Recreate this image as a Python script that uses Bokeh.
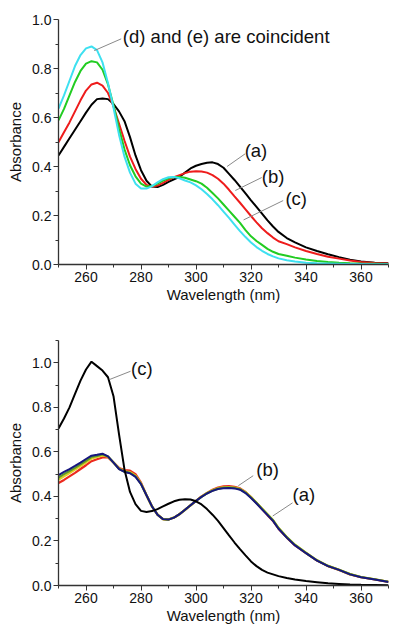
from bokeh.plotting import figure
from bokeh.layouts import column
from bokeh.models import Range1d, FixedTicker, PrintfTickFormatter
from bokeh.core.properties import value
from bokeh.embed import file_html
from bokeh.resources import INLINE

# ---------------- data: top panel ----------------
wl_top = [250, 252, 254, 256, 258, 260, 262, 264, 266, 268, 270, 272, 274, 276, 278,
          280, 282, 284, 286, 288, 290, 292, 294, 296, 298, 300, 302, 304, 306, 308,
          310, 312, 314, 316, 318, 320, 322, 324, 326, 328, 330, 333, 336, 340, 344,
          348, 352, 356, 360, 365, 370]

top_a_black = [0.445, 0.48, 0.515, 0.55, 0.585, 0.62, 0.652, 0.675, 0.678, 0.675, 0.655,
               0.625, 0.585, 0.52, 0.445, 0.385, 0.342, 0.318, 0.316, 0.325, 0.337, 0.348,
               0.358, 0.375, 0.392, 0.403, 0.41, 0.415, 0.417, 0.41, 0.395, 0.37, 0.345,
               0.318, 0.29, 0.262, 0.235, 0.208, 0.18, 0.155, 0.133, 0.108, 0.09, 0.07,
               0.055, 0.042, 0.03, 0.019, 0.012, 0.007, 0.005]

top_b_red = [0.499, 0.54, 0.58, 0.625, 0.67, 0.71, 0.735, 0.742, 0.73, 0.70, 0.645, 0.575,
             0.505, 0.44, 0.39, 0.35, 0.325, 0.318, 0.322, 0.333, 0.345, 0.356, 0.365,
             0.373, 0.379, 0.381, 0.38, 0.375, 0.365, 0.35, 0.33, 0.305, 0.278, 0.252,
             0.225, 0.198, 0.172, 0.148, 0.128, 0.11, 0.095, 0.083, 0.07, 0.055, 0.043,
             0.032, 0.024, 0.016, 0.01, 0.006, 0.004]

top_c_green = [0.588, 0.635, 0.69, 0.745, 0.79, 0.82, 0.83, 0.825, 0.795, 0.735, 0.65,
               0.555, 0.47, 0.405, 0.36, 0.33, 0.318, 0.32, 0.33, 0.342, 0.352, 0.357,
               0.357, 0.354, 0.347, 0.34, 0.33, 0.313, 0.292, 0.27, 0.245, 0.22, 0.195,
               0.17, 0.14, 0.115, 0.096, 0.08, 0.064, 0.052, 0.043, 0.036, 0.028, 0.02,
               0.014, 0.01, 0.007, 0.005, 0.004, 0.003, 0.002]

top_de_cyan = [0.636, 0.69, 0.75, 0.81, 0.855, 0.882, 0.89, 0.875, 0.825, 0.74, 0.64,
               0.53, 0.44, 0.375, 0.33, 0.31, 0.31, 0.32, 0.335, 0.348, 0.356, 0.357,
               0.352, 0.343, 0.335, 0.323, 0.307, 0.288, 0.266, 0.242, 0.216, 0.19, 0.163,
               0.136, 0.112, 0.09, 0.071, 0.056, 0.043, 0.033, 0.025, 0.017, 0.012, 0.007,
               0.005, 0.004, 0.003, 0.002, 0.002, 0.001, 0.001]

# ---------------- data: bottom panel ----------------
wl_bot = wl_top

bot_c_black = [0.705, 0.75, 0.80, 0.86, 0.92, 0.97, 1.005, 0.985, 0.965, 0.935, 0.85,
               0.68, 0.52, 0.42, 0.365, 0.335, 0.33, 0.334, 0.343, 0.355, 0.367, 0.378,
               0.385, 0.387, 0.386, 0.378, 0.364, 0.343, 0.318, 0.29, 0.258, 0.225, 0.193,
               0.163, 0.135, 0.108, 0.087, 0.07, 0.058, 0.05, 0.042, 0.034, 0.027, 0.02,
               0.015, 0.01, 0.007, 0.004, 0.003, 0.002, 0.001]

bot_red = [0.46, 0.474, 0.49, 0.506, 0.523, 0.54, 0.558, 0.567, 0.575, 0.575, 0.552,
           0.528, 0.518, 0.516, 0.50, 0.462, 0.405, 0.355, 0.318, 0.298, 0.296, 0.305,
           0.32, 0.34, 0.36, 0.38, 0.40, 0.416, 0.43, 0.44, 0.445, 0.446, 0.443, 0.436,
           0.42, 0.397, 0.37, 0.343, 0.316, 0.29, 0.255, 0.215, 0.18, 0.145, 0.112,
           0.087, 0.07, 0.05, 0.037, 0.027, 0.016]

bot_gold = [0.475, 0.49, 0.505, 0.52, 0.536, 0.553, 0.57, 0.577, 0.584, 0.578, 0.552,
            0.525, 0.513, 0.509, 0.493, 0.458, 0.405, 0.355, 0.318, 0.298, 0.296, 0.305,
            0.32, 0.34, 0.36, 0.38, 0.399, 0.415, 0.428, 0.437, 0.441, 0.442, 0.44, 0.434,
            0.419, 0.397, 0.372, 0.346, 0.32, 0.294, 0.259, 0.218, 0.183, 0.147, 0.113,
            0.088, 0.071, 0.051, 0.038, 0.028, 0.017]

bot_olive = [0.485, 0.50, 0.514, 0.528, 0.544, 0.56, 0.577, 0.582, 0.588, 0.579, 0.552,
             0.524, 0.511, 0.506, 0.49, 0.456, 0.405, 0.355, 0.318, 0.298, 0.296, 0.305,
             0.32, 0.34, 0.36, 0.38, 0.398, 0.414, 0.426, 0.435, 0.439, 0.44, 0.438, 0.432,
             0.417, 0.395, 0.371, 0.345, 0.319, 0.293, 0.258, 0.217, 0.182, 0.146, 0.113,
             0.088, 0.071, 0.051, 0.038, 0.028, 0.017]

bot_navy = [0.496, 0.51, 0.523, 0.537, 0.552, 0.568, 0.583, 0.587, 0.592, 0.58, 0.552,
            0.523, 0.51, 0.504, 0.488, 0.455, 0.405, 0.355, 0.318, 0.298, 0.296, 0.305,
            0.32, 0.34, 0.36, 0.38, 0.398, 0.413, 0.425, 0.433, 0.437, 0.438, 0.436, 0.43,
            0.415, 0.393, 0.368, 0.342, 0.316, 0.29, 0.255, 0.215, 0.18, 0.145, 0.112,
            0.087, 0.07, 0.05, 0.037, 0.027, 0.016]

x_major = [260, 280, 300, 320, 340, 360]
x_minor = [250, 270, 290, 310, 330, 350, 370]
y_major = [0.0, 0.2, 0.4, 0.6, 0.8, 1.0]
y_minor_top = [0.1, 0.3, 0.5, 0.7, 0.9]
y_minor_bot = [0.1, 0.3, 0.5, 0.7, 0.9, 1.1]

FONT = "Liberation Sans"


def style(p, y_minor):
    p.xaxis.ticker = FixedTicker(ticks=x_major, minor_ticks=x_minor)
    p.yaxis.ticker = FixedTicker(ticks=y_major, minor_ticks=y_minor)
    p.xaxis.formatter = PrintfTickFormatter(format="%d")
    p.yaxis.formatter = PrintfTickFormatter(format="%.1f")
    for ax in (p.xaxis[0], p.yaxis[0]):
        ax.major_label_text_font = FONT
        ax.major_label_text_font_size = "14px"
        ax.major_label_text_color = "#111111"
        ax.axis_label_text_font = FONT
        ax.axis_label_text_font_size = "15px"
        ax.axis_label_text_font_style = "normal"
        ax.axis_label_text_color = "#111111"
        ax.axis_line_color = "#333333"
        ax.axis_line_width = 1.3
        ax.major_tick_line_color = "#333333"
        ax.minor_tick_line_color = "#333333"
        ax.major_tick_in = 0
        ax.major_tick_out = 5
        ax.minor_tick_in = 0
        ax.minor_tick_out = 3
        ax.major_label_standoff = 2
    p.xaxis.axis_label = "Wavelength (nm)"
    p.yaxis.axis_label = "Absorbance"
    p.xaxis.axis_label_standoff = 1
    p.yaxis.axis_label_standoff = 5
    p.xgrid.visible = False
    p.ygrid.visible = False
    p.outline_line_color = None
    p.background_fill_color = "white"
    p.border_fill_color = "white"


def note(p, x, y, txt):
    p.text(x=[x], y=[y], text=[txt], text_font=value(FONT), text_font_size="18.5px",
           text_color="#111111", text_baseline="middle", text_align="left")


def leader(p, xs, ys):
    p.line(x=xs, y=ys, line_color="#8a8a8a", line_width=1)


# ---------------- top figure ----------------
p1 = figure(width=392, height=310, output_backend="svg", toolbar_location=None,
            x_range=Range1d(250, 370), y_range=Range1d(0, 1.0),
            min_border_left=55, min_border_right=4, min_border_top=19, min_border_bottom=46)
style(p1, y_minor_top)

p1.line(wl_top, top_a_black, line_color="#000000", line_width=2)
p1.line(wl_top, top_b_red, line_color="#ee1c1c", line_width=2)
p1.line(wl_top, top_c_green, line_color="#22cc22", line_width=2)
p1.line(wl_top, top_de_cyan, line_color="#3ee0f0", line_width=2)

leader(p1, [263.0, 272.8], [0.873, 0.921])
note(p1, 273.4, 0.931, "(d) and (e) are coincident")
leader(p1, [311.3, 317.9], [0.40, 0.452])
note(p1, 317.7, 0.465, "(a)")
leader(p1, [314.3, 323.9], [0.302, 0.355])
note(p1, 323.9, 0.361, "(b)")
leader(p1, [317.3, 331.7], [0.182, 0.261])
note(p1, 332.5, 0.271, "(c)")

# ---------------- bottom figure ----------------
p2 = figure(width=392, height=316, output_backend="svg", toolbar_location=None,
            x_range=Range1d(250, 370), y_range=Range1d(0, 1.1),
            min_border_left=58, min_border_right=0, min_border_top=30, min_border_bottom=39)
style(p2, y_minor_bot)

p2.line(wl_bot, bot_red, line_color="#ec2a1e", line_width=2.2)
p2.line(wl_bot, bot_gold, line_color="#e0d020", line_width=2.2)
p2.line(wl_bot, bot_olive, line_color="#5f9a28", line_width=2.2)
p2.line(wl_bot, bot_navy, line_color="#16167e", line_width=2)
p2.line(wl_bot, bot_c_black, line_color="#000000", line_width=2)

leader(p2, [268.6, 276.2], [0.925, 0.962])
note(p2, 276.4, 0.975, "(c)")
leader(p2, [315.4, 320.8], [0.448, 0.493])
note(p2, 321.9, 0.523, "(b)")
leader(p2, [327.9, 335.1], [0.312, 0.371])
note(p2, 335.1, 0.407, "(a)")

layout = column(p1, p2)
open("out.html", "w").write(file_html(layout, INLINE))
